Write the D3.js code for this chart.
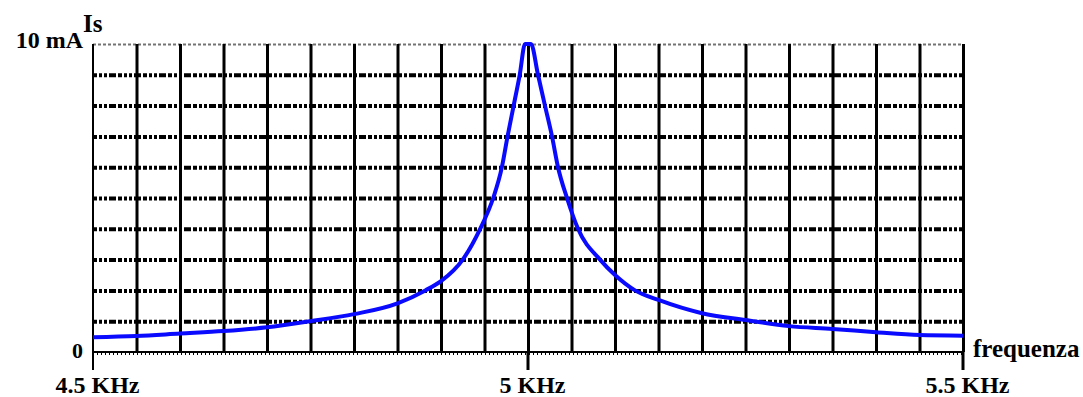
<!DOCTYPE html>
<html>
<head>
<meta charset="utf-8">
<script src="https://cdn.jsdelivr.net/npm/d3@7"></script>
<style>
  html, body { margin: 0; padding: 0; background: #fff; }
  svg text { font-family: "Liberation Serif", "Times New Roman", serif; font-weight: bold; fill: #000; }
</style>
</head>
<body>
<div id="chart"></div>
<script>
// frequency (KHz) and current (mA)
const freqs = [4.5, 4.55, 4.6, 4.65, 4.7, 4.75, 4.8, 4.85, 4.882, 4.9, 4.925, 4.945, 4.96, 4.97, 4.9765, 4.9835, 4.9905, 4.9966, 5.0034,
  5.0115, 5.0195, 5.0276, 5.0345, 5.0448, 5.0575, 5.0828, 5.1, 5.123, 5.15, 5.2, 5.25, 5.3, 5.35, 5.4, 5.45, 5.5];
const current = [0.48, 0.52, 0.6, 0.68, 0.8, 1.0, 1.23, 1.58, 2.0, 2.3, 3.0, 4.0, 5.0, 6.0, 7.0, 8.0, 9.0, 10, 10,
  9.0, 8.0, 7.0, 6.0, 5.0, 4.0, 3.0, 2.5, 2.0, 1.69, 1.26, 1.04, 0.84, 0.75, 0.64, 0.55, 0.53];
const xLabelValues = [4.5, 5, 5.5];
const xLabels = ["4.5 KHz", "5 KHz", "5.5 KHz"];
const gridFreqs = d3.range(21).map(i => 4.5 + i * 0.05);
const gridCurrents = d3.range(1, 11);

const width = 1083, height = 397;
const plotLeft = 93, plotRight = 963, plotTop = 44, plotBottom = 352;

const svg = d3.select('#chart').append('svg')
  .attr('width', width)
  .attr('height', height);

const x = d3.scaleLinear().domain([4.5, 5.5]).range([plotLeft, plotRight]);
const y = d3.scaleLinear().domain([0, 10]).range([plotBottom, plotTop]);

// horizontal dotted grid
const hGrid = svg.append('g')
  .attr('transform', `translate(${plotLeft},0)`)
  .call(d3.axisLeft(y).tickValues(gridCurrents).tickSize(-(plotRight - plotLeft)).tickFormat(''));
hGrid.select('.domain').remove();
hGrid.selectAll('.tick line')
  .attr('stroke', '#000')
  .attr('stroke-width', d => d === 10 ? 2 : 4)
  .attr('stroke-opacity', d => d === 10 ? 0.55 : 1)
  .attr('stroke-dasharray', d => d === 10 ? '3,2' : '4,2,3,2,3,2,7,2');

// vertical solid grid
const vGrid = svg.append('g')
  .attr('transform', `translate(0,${plotBottom})`)
  .call(d3.axisBottom(x).tickValues(gridFreqs.slice(1)).tickSize(-(plotBottom - plotTop)).tickFormat(''));
vGrid.select('.domain').remove();
vGrid.selectAll('.tick line')
  .attr('stroke', '#000')
  .attr('stroke-width', 3);

// bottom axis with fine dotted ticks
svg.append('line')
  .attr('x1', x(4.5)).attr('x2', x(5.5))
  .attr('y1', y(0)).attr('y2', y(0))
  .attr('stroke', '#000').attr('stroke-width', 2);
svg.append('line')
  .attr('x1', x(4.5)).attr('x2', x(5.5))
  .attr('y1', y(0) + 2).attr('y2', y(0) + 2)
  .attr('stroke', '#000').attr('stroke-width', 2)
  .attr('stroke-dasharray', '1,3');

// left axis
svg.append('line')
  .attr('x1', x(4.5)).attr('x2', x(4.5))
  .attr('y1', y(10)).attr('y2', 370)
  .attr('stroke', '#000').attr('stroke-width', 2);

// long ticks at labelled frequencies
svg.selectAll('.major')
  .data(xLabelValues.slice(1))
  .enter().append('line')
  .attr('x1', d => x(d)).attr('x2', d => x(d))
  .attr('y1', y(0)).attr('y2', 370)
  .attr('stroke', '#000').attr('stroke-width', 3);

// x labels
const xAxis = svg.append('g')
  .attr('transform', `translate(0,${plotBottom})`)
  .call(d3.axisBottom(x).tickValues(xLabelValues).tickSize(0).tickFormat((d, i) => xLabels[i]));
xAxis.select('.domain').remove();
xAxis.selectAll('.tick text')
  .attr('y', 41)
  .attr('dy', 0)
  .attr('dx', 4)
  .style('font-size', '24px')
  .style('font-family', '"Liberation Serif", serif')
  .style('font-weight', 'bold');

// curve
const line = d3.line()
  .x((d, i) => x(freqs[i]))
  .y(d => y(d))
  .curve(d3.curveMonotoneX);

svg.append('path')
  .datum(current)
  .attr('d', line)
  .attr('fill', 'none')
  .attr('stroke', '#0a0aff')
  .attr('stroke-width', 4);

// other labels
svg.append('text').attr('x', 83).attr('y', 48).attr('text-anchor', 'end')
  .style('font-size', '24px').text('10 mA');
svg.append('text').attr('x', 83).attr('y', 32)
  .style('font-size', '25px').text('Is');
svg.append('text').attr('x', 83).attr('y', 358).attr('text-anchor', 'end')
  .style('font-size', '22px').text('0');
svg.append('text').attr('x', 973).attr('y', 357)
  .style('font-size', '25px').text('frequenza');
</script>
</body>
</html>
